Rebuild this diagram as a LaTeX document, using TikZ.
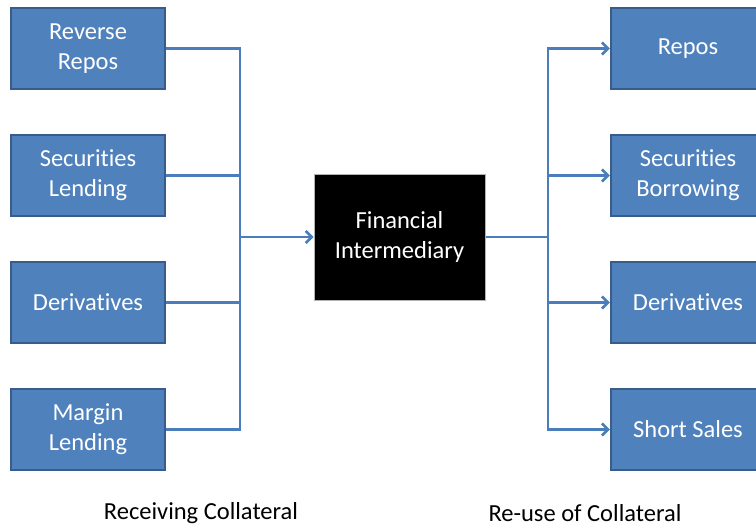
\documentclass[tikz,border=0pt]{standalone}
\usepackage{fontspec}
\setmainfont{Carlito}[Ligatures=NoCommon]
\usepackage{tikz}
\usetikzlibrary{arrows, arrows.meta, positioning}
\definecolor{boxblue}{HTML}{4F81BD}
\definecolor{boxedge}{HTML}{385D8A}
\definecolor{linkblue}{HTML}{4A7EBB}

\begin{document}
\begin{tikzpicture}[x=1pt, y=-1pt, node distance = 127pt, font=\fontsize{24.5}{30}\selectfont, >={Straight Barb[length=6pt, width=12pt]}]
    \clip (0,0) rectangle (756,527);
    \begin{scope}[every node/.style={rectangle, draw=boxedge, line width=2.5pt, fill=boxblue, text=white, align=center, minimum width=154pt, minimum height=81pt, inner sep=0pt}]
        \node (RR) at (88,48.5) {Reverse\\Repos};
        \node (SL) [below of = RR] {Securities\\Lending};
        \node (DL) [below of = SL] {Derivatives};
        \node (ML) [below of = DL] {Margin\\Lending};
        \node (RP) [right of = RR, node distance = 600pt] {Repos};
        \node (SB) [below of = RP] {Securities\\Borrowing};
        \node (DR) [below of = SB] {Derivatives};
        \node (SS) [below of = DR] {Short Sales};
    \end{scope}

    \node (FI) at (399.5,237) [rectangle, draw=gray!60, line width=1pt, fill=black, text=white, align=center, minimum width=171pt, minimum height=126pt] {Financial\\Intermediary};

    \node (RC) at (201,513) {Receiving Collateral};
    \node (RU) at (585,513) {Re-use of Collateral};

    \coordinate (LB) at (240,237);
    \coordinate (RB) at (548,237);

    \begin{scope}[draw=linkblue, line width=2.5pt]
        \draw (RR.east) -| (LB);
        \draw (SL.east) -| (LB);
        \draw (DL.east) -| (LB);
        \draw (ML.east) -| (LB);
        \draw [->] (LB) -- (FI.west);
        \draw (FI.east) -- (RB);
        \draw [->] (RB) |- (RP.west);
        \draw [->] (RB) |- (SB.west);
        \draw [->] (RB) |- (DR.west);
        \draw [->] (RB) |- (SS.west);
    \end{scope}
\end{tikzpicture}
\end{document}
